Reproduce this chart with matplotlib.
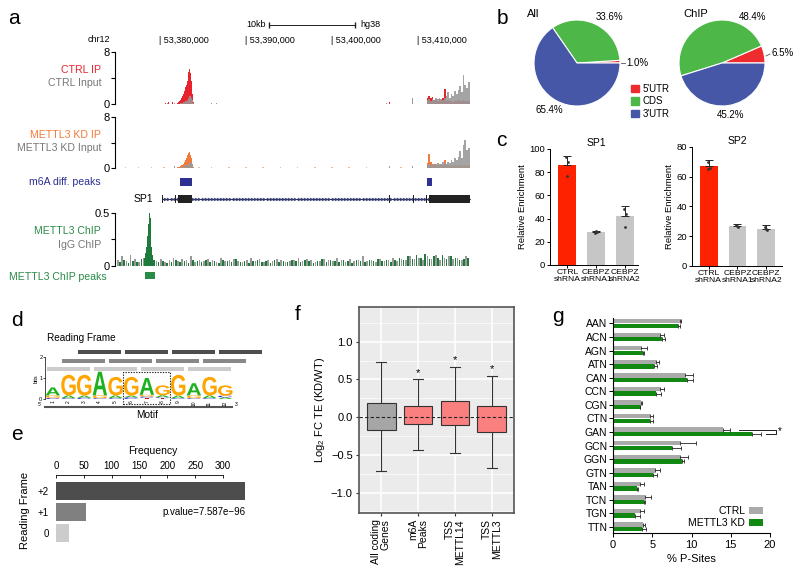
import numpy as np
import matplotlib
matplotlib.use("Agg")
import matplotlib.pyplot as plt
from matplotlib.patches import Rectangle, PathPatch, Patch
from matplotlib.textpath import TextPath
from matplotlib.font_manager import FontProperties
from matplotlib.transforms import Affine2D

plt.rcParams['font.family'] = ['Liberation Sans', 'DejaVu Sans']
plt.rcParams['mathtext.fontset'] = 'custom'
plt.rcParams['mathtext.rm'] = 'Liberation Sans'

# ---------------- data ----------------
# a: genome browser (chr12, SP1 locus)
view = (53374770, 53416047)
ruler_ticks = [53380000, 53390000, 53400000, 53410000]

peak_start, peak_bin = 53382000, 100
ctrl_ip_peak = [0.2, 0.3, 0.5, 0.6, 0.8, 1.0, 1.2, 1.6, 2.0, 2.6, 3.0, 3.6, 4.4, 5.0, 5.4, 4.8, 3.6, 1.5, 0.3]
ctrl_in_peak = [0, 0, 0, 0.1, 0.1, 0.2, 0.2, 0.3, 0.3, 0.4, 0.5, 0.6, 0.8, 1.0, 1.2, 1.2, 1.0, 0.6, 0.2]
kd_ip_peak = [0.1, 0.2, 0.2, 0.3, 0.3, 0.4, 0.5, 0.7, 0.9, 1.2, 1.5, 2.0, 2.5, 2.4, 2.5, 2.0, 1.5, 0.6, 0.1]
kd_in_peak = [0, 0, 0, 0.1, 0.1, 0.1, 0.2, 0.2, 0.3, 0.4, 0.4, 0.5, 0.7, 0.8, 1.0, 1.0, 0.8, 0.4, 0.1]

tail_start, tail_bin = 53411000, 200
ctrl_in_tail = [0.6, 0.7, 0.5, 0.8, 0.6, 1.0, 0.7, 0.9, 0.8, 0.6, 0.9, 1.2, 1.8, 1.0, 1.5, 1.2, 2.0, 1.5, 2.2, 2.8, 1.8, 4.4, 3.0, 2.4, 3.4]
ctrl_ip_tail = [1.0, 1.2, 0.9, 1.1, 0.6, 0.8, 0.5, 0.7, 0.6, 0.9, 2.3, 0.5, 0.6, 0.4, 0.5, 0.3, 0.5, 0.4, 0.6, 0.5, 0.4, 0.6, 0.5, 0.4, 0.5]
kd_in_tail = [0.4, 0.6, 0.5, 0.7, 0.5, 0.6, 0.8, 0.6, 0.7, 0.9, 0.8, 0.6, 1.0, 0.8, 1.2, 0.9, 1.5, 1.2, 1.8, 2.6, 1.6, 3.6, 4.4, 2.8, 3.2]
kd_ip_tail = [0.8, 2.2, 0.9, 0.5, 0.6, 0.4, 0.5, 0.3, 0.6, 0.4, 1.2, 0.4, 0.5, 0.3, 0.4, 0.3, 0.4, 0.3, 0.5, 0.4, 0.3, 0.5, 0.4, 0.3, 0.4]

ctrl_ip_spot_pos = [53380600, 53381000, 53381500, 53406700]
ctrl_ip_spot_val = [0.2, 0.25, 0.3, 0.35]
ctrl_in_spot_pos = [53380900, 53381700, 53386000, 53386600, 53406300, 53409400]
ctrl_in_spot_val = [0.15, 0.2, 0.1, 0.1, 0.2, 0.9]
kd_ip_spot_pos = [53376000, 53377500, 53379000, 53380500, 53384500, 53386000, 53388000, 53390000, 53392000,
                  53394000, 53396000, 53398000, 53400000, 53402000, 53404000, 53408000]
kd_ip_spot_val = [0.12] * 16
kd_in_spot_pos = [53381700, 53406700, 53409400]
kd_in_spot_val = [0.3, 0.3, 0.25]

m6a_peaks = [(53382300, 53383700), (53411050, 53411630)]
chip_peaks = [(53378250, 53379400)]
sp1_exons = [(53380250, 53380330), (53381700, 53381830), (53382150, 53383700), (53406650, 53406780),
             (53409450, 53409580), (53410950, 53411080), (53411300, 53416047)]

chip_peak_start, chip_peak_bin = 53378200, 100
chip_peak = [0.08, 0.12, 0.18, 0.28, 0.40, 0.50, 0.45, 0.30, 0.18, 0.10, 0.06, 0.05]
bg_start, bg_bin = 53375000, 500
igg_bg = [0.06, 0.09, 0.05, 0.10, 0.07, 0.04, 0.08, 0.06, 0.09, 0.05,
          0.07, 0.04, 0.06, 0.08, 0.05, 0.07, 0.06, 0.09, 0.04, 0.06,
          0.05, 0.07, 0.06, 0.04, 0.08, 0.05, 0.06, 0.07, 0.05, 0.04,
          0.06, 0.08, 0.05, 0.07, 0.04, 0.06, 0.05, 0.07, 0.06, 0.04,
          0.05, 0.06, 0.08, 0.05, 0.07, 0.06, 0.04, 0.05, 0.07, 0.06,
          0.05, 0.08, 0.06, 0.04, 0.07, 0.05, 0.06, 0.09, 0.05, 0.06,
          0.04, 0.07, 0.05, 0.06, 0.08, 0.05, 0.07, 0.06, 0.09, 0.07,
          0.08, 0.06, 0.09, 0.07, 0.10, 0.06, 0.08, 0.09, 0.07, 0.08,
          0.06, 0.09]
chip_bg = [0.04, 0.06, 0.03, 0.05, 0.04, 0.07, 0.05, 0.03, 0.06, 0.04,
           0.05, 0.03, 0.04, 0.06, 0.04, 0.05, 0.03, 0.06, 0.05, 0.04,
           0.06, 0.04, 0.05, 0.03, 0.06, 0.05, 0.04, 0.07, 0.04, 0.05,
           0.03, 0.05, 0.06, 0.04, 0.05, 0.03, 0.06, 0.04, 0.05, 0.04,
           0.06, 0.05, 0.04, 0.06, 0.05, 0.03, 0.05, 0.07, 0.04, 0.06,
           0.05, 0.04, 0.06, 0.05, 0.03, 0.06, 0.05, 0.04, 0.06, 0.05,
           0.07, 0.05, 0.06, 0.04, 0.06, 0.08, 0.06, 0.09, 0.07, 0.10,
           0.08, 0.11, 0.07, 0.09, 0.08, 0.10, 0.07, 0.09, 0.08, 0.06,
           0.07, 0.08]

# b: pies
pie_labels = ["5'UTR", "CDS", "3'UTR"]
pie_all = [1.0, 33.6, 65.4]
pie_chip = [6.5, 48.4, 45.2]
pie_colors = ['#ee2b2f', '#4db848', '#4657a7']

# c: enrichment
c_groups = ['CTRL\nshRNA', 'CEBPZ\nshRNA1', 'CEBPZ\nshRNA2']
sp1_mean = [86, 28.5, 42]
sp1_err = [8, 1, 8.5]
sp1_pts = [[93, 89, 77], [28, 28.5, 29], [48, 44, 33]]
sp2_mean = [67, 27, 25]
sp2_err = [4, 1.5, 2.5]
sp2_pts = [[70, 66, 65.5], [27.5, 26, 27], [26, 24.5, 25]]
c_colors = ['#ff2200', '#c6c6c6', '#c6c6c6']

# d: motif logo
motif = list("AGGAGGAGGAGG")
motif_top = [0.55, 1.15, 1.15, 1.3, 1.05, 1.05, 1.0, 0.65, 1.15, 0.75, 1.05, 0.65]
motif_bg = [[('C', 0.05), ('G', 0.12)], [('C', 0.04), ('A', 0.13)], [('C', 0.06), ('A', 0.10)],
            [('C', 0.04), ('G', 0.13)], [('C', 0.04), ('A', 0.13)], [('C', 0.08), ('A', 0.08)],
            [('T', 0.06), ('C', 0.06), ('G', 0.08)], [('T', 0.04), ('C', 0.04), ('A', 0.10)],
            [('C', 0.04), ('A', 0.12)], [('C', 0.04), ('G', 0.13)], [('C', 0.04), ('A', 0.13)],
            [('A', 0.08), ('C', 0.08)]]
base_colors = {'A': '#1fb01f', 'G': '#ffa500', 'C': '#2020cc', 'T': '#d01010'}
frames = [0, 1, 2]
frame_colors = ['#cccccc', '#888888', '#4d4d4d']

# e: reading frame
rf_labels = ['+2', '+1', '0']
rf_counts = [339, 54, 23]
rf_colors = ['#4d4d4d', '#808080', '#cccccc']

# f: TE box plots
f_groups = ['All coding\nGenes', 'm6A\nPeaks', 'TSS\nMETTL14', 'TSS\nMETTL3']
f_q1 = [-0.17, -0.09, -0.10, -0.20]
f_med = [0.0, 0.03, 0.03, -0.04]
f_q3 = [0.19, 0.15, 0.21, 0.15]
f_lo = [-0.71, -0.44, -0.47, -0.68]
f_hi = [0.73, 0.50, 0.67, 0.55]
f_sig = ['', '*', '*', '*']
f_colors = ['#a6a6a6', '#fa7f7f', '#fa7f7f', '#fa7f7f']

# g: P-sites
codons = ['AAN', 'ACN', 'AGN', 'ATN', 'CAN', 'CCN', 'CGN', 'CTN',
          'GAN', 'GCN', 'GGN', 'GTN', 'TAN', 'TCN', 'TGN', 'TTN']
g_ctrl = [8.55, 6.0, 3.55, 5.5, 9.2, 6.0, 3.55, 4.75, 14.0, 8.55, 8.55, 5.4, 3.45, 4.1, 3.45, 3.8]
g_ctrl_err = [0.1, 0.45, 0.75, 0.3, 1.05, 0.5, 0.15, 0.35, 0.9, 2.05, 0.95, 0.6, 0.45, 0.75, 0.45, 0.3]
g_kd = [8.25, 6.2, 3.8, 5.25, 9.4, 5.5, 3.4, 4.65, 17.75, 7.55, 8.75, 5.15, 3.05, 3.9, 2.85, 3.7]
g_kd_err = [0.3, 0.45, 0.2, 0.35, 0.85, 0.6, 0.1, 0.45, 1.15, 1.1, 0.25, 0.45, 0.1, 0.2, 0.65, 0.55]

# ---------------- figure ----------------
fig = plt.figure(figsize=(8, 5.8), dpi=100)


def box(x0, y0, x1, y1):
    return fig.add_axes([x0 / 800, 1 - y1 / 580, (x1 - x0) / 800, (y1 - y0) / 580])


ov = box(0, 0, 800, 580)
ov.set_xlim(0, 800)
ov.set_ylim(580, 0)
ov.axis('off')


def T(x, y, s, size=7, **kw):
    kw.setdefault('va', 'center')
    ov.text(x, y, s, fontsize=size, **kw)


for lab, x, y in [('a', 14, 19), ('b', 502, 19), ('c', 501, 140), ('d', 17, 320),
                  ('e', 17, 434), ('f', 298, 314), ('g', 558, 316)]:
    T(x, y, lab, size=15, ha='center')

# ---- a ----
def track(y0, y1, top, toplab):
    ax = box(115, y0, 470, y1)
    ax.set_xlim(*view)
    ax.set_ylim(0, top)
    for s in ('top', 'right', 'bottom'):
        ax.spines[s].set_visible(False)
    ax.spines['left'].set_linewidth(0.8)
    ax.set_xticks([])
    ax.set_yticks([0, top / 2, top], ['0', '', toplab])
    ax.tick_params(axis='y', length=3, width=0.8, labelsize=8, pad=1)
    ax.patch.set_visible(False)
    return ax


def cover(ax, start, step, vals, color, alpha=1.0, z=2):
    pos = start + step * np.arange(len(vals))
    ax.bar(pos, vals, width=step, align='edge', color=color, alpha=alpha, lw=0, zorder=z)


red, orange, grey, green = '#e8232d', '#f47a3a', '#9a9a9a', '#1f7a3c'

ax1 = track(52, 104, 8, '8')
cover(ax1, peak_start, peak_bin, ctrl_ip_peak, red)
cover(ax1, tail_start, tail_bin, ctrl_ip_tail, red)
ax1.bar(ctrl_ip_spot_pos, ctrl_ip_spot_val, width=130, color=red, lw=0)
cover(ax1, peak_start, peak_bin, ctrl_in_peak, grey, 0.85, 3)
cover(ax1, tail_start, tail_bin, ctrl_in_tail, grey, 0.9, 3)
ax1.bar(ctrl_in_spot_pos, ctrl_in_spot_val, width=130, color=grey, lw=0)

xt = ax1.get_xaxis_transform()
for g in ruler_ticks:
    ax1.text(g - 150, 1.23, f'| {g:,}', transform=xt, fontsize=6.5, ha='left', va='center')
ax1.plot([53392700, 53402700], [1.52, 1.52], transform=xt, color='#222', lw=0.7,
         marker='|', ms=4, clip_on=False)
ax1.text(53392300, 1.52, '10kb', transform=xt, fontsize=6.5, ha='right', va='center')
ax1.text(53403300, 1.52, 'hg38', transform=xt, fontsize=6.5, ha='left', va='center')
T(110, 40, 'chr12', size=6.5, ha='right')

ax2 = track(117, 168, 8, '8')
cover(ax2, peak_start, peak_bin, kd_ip_peak, orange)
cover(ax2, tail_start, tail_bin, kd_ip_tail, orange)
ax2.bar(kd_ip_spot_pos, kd_ip_spot_val, width=200, color='#f8b890', lw=0)
cover(ax2, peak_start, peak_bin, kd_in_peak, grey, 0.85, 3)
cover(ax2, tail_start, tail_bin, kd_in_tail, grey, 0.9, 3)
ax2.bar(kd_in_spot_pos, kd_in_spot_val, width=130, color=grey, lw=0)

axg = box(115, 172, 470, 212)
axg.set_xlim(*view)
axg.set_ylim(212, 172)
axg.axis('off')
for s, e in m6a_peaks:
    axg.add_patch(Rectangle((s, 178), e - s, 8, color='#2e3192', lw=0))
axg.plot([sp1_exons[0][0], view[1]], [199, 199], color='#222', lw=0.7)
chev = np.arange(sp1_exons[0][1] + 300, view[1], 360)
axg.plot(chev, [199] * len(chev), ls='none', marker='>', ms=2.2, mew=0.3, color='#333a70')
for s, e in sp1_exons:
    axg.add_patch(Rectangle((s, 195), max(e - s, 120), 8, color='#222', lw=0, zorder=3))
axg.text(53379200, 199, 'SP1', fontsize=7.5, ha='right', va='center')

ax3 = track(213, 266, 0.5, '0.5')
ax3.bar(bg_start + bg_bin * np.arange(len(igg_bg)), igg_bg, width=180, align='edge', color=grey, lw=0)
ax3.bar(bg_start + 250 + bg_bin * np.arange(len(chip_bg)), chip_bg, width=180, align='edge', color=green, lw=0)
cover(ax3, chip_peak_start, chip_peak_bin, chip_peak, green)

axp = box(115, 268, 470, 282)
axp.set_xlim(*view)
axp.set_ylim(282, 268)
axp.axis('off')
for s, e in chip_peaks:
    axp.add_patch(Rectangle((s, 272), e - s, 7, color='#2a8a48', lw=0))

for txt, y, c in [('CTRL IP', 70, red), ('CTRL Input', 83, '#777777'),
                  ('METTL3 KD IP', 135, orange), ('METTL3 KD Input', 148, '#777777'),
                  ('m6A diff. peaks', 182, '#2e3192'), ('METTL3 ChIP', 231, '#2a8a48'),
                  ('IgG ChIP', 245, '#777777')]:
    T(101, y, txt, size=7.6, ha='right', color=c)
T(107, 277, 'METTL3 ChIP peaks', size=7.6, ha='right', color='#2a8a48')

# ---- b ----
for vals, (x0, x1), title, tx in [(pie_all, (534, 620), 'All', 527), (pie_chip, (679, 765), 'ChIP', 683)]:
    ax = box(x0, 20, x1, 106)
    wedges, _ = ax.pie(vals, colors=pie_colors, startangle=0, counterclock=True,
                       wedgeprops=dict(edgecolor='white', linewidth=0.8))
    ax.set_xlim(-1, 1)
    ax.set_ylim(-1, 1)
    T(tx, 14, title, size=8, ha='left')
T(609, 17, '33.6%', ha='center')
ov.plot([621, 625], [63, 63], color='#555', lw=0.6)
T(626, 63, '1.0%', ha='left')
T(549, 110, '65.4%', ha='center')
T(753, 17, '48.4%', ha='center')
ov.plot([766, 770], [56, 54], color='#555', lw=0.6)
T(771, 53, '6.5%', ha='left')
T(731, 115, '45.2%', ha='center')
fig.legend([Patch(color=c) for c in pie_colors], pie_labels, loc='upper left',
           bbox_to_anchor=(631 / 800, 1 - 84 / 580), frameon=False, fontsize=7,
           handlelength=0.8, handleheight=0.8, labelspacing=0.25, handletextpad=0.4,
           borderpad=0, borderaxespad=0)

# ---- c ----
for (x0, y0, x1, y1), mean, err, pts, title, yt, xl in [
        ((550, 149, 638, 265), sp1_mean, sp1_err, sp1_pts, 'SP1', [0, 20, 40, 60, 80, 100], (-0.6, 2.45)),
        ((692, 147, 782, 266), sp2_mean, sp2_err, sp2_pts, 'SP2', [0, 20, 40, 60, 80], (-0.58, 2.55))]:
    ax = box(x0, y0, x1, y1)
    xs = np.arange(len(mean))
    ax.bar(xs, mean, width=0.62, color=c_colors)
    ax.errorbar(xs, mean, yerr=[[0] * len(err), err], fmt='none', ecolor='#222', elinewidth=0.7,
                capsize=3, capthick=0.7)
    for i, p in enumerate(pts):
        ax.scatter([i - 0.04, i + 0.03, i - 0.01], p, s=4, color='#333', zorder=4, lw=0)
    ax.set_xlim(*xl)
    ax.set_ylim(0, yt[-1])
    ax.set_yticks(yt)
    ax.set_xticks(xs, c_groups, linespacing=0.9)
    for s in ('top', 'right'):
        ax.spines[s].set_visible(False)
    for s in ('left', 'bottom'):
        ax.spines[s].set_linewidth(0.7)
    ax.tick_params(axis='y', labelsize=6.8, length=2, width=0.7, pad=1.5)
    ax.tick_params(axis='x', labelsize=6.1, length=2, width=0.7, pad=1)
    ax.set_ylabel('Relative Enrichment', fontsize=6.8, labelpad=2)
    ax.text(1, 1.01, title, transform=ax.get_xaxis_transform(), ha='center', va='bottom', fontsize=7.5)

# ---- d ----
axd = box(45, 345, 265, 399)
axd.set_xlim(0.5, 0.5 + 220 / 15.67)
axd.set_ylim(0, 54 / 21)
for s in ('top', 'right', 'bottom'):
    axd.spines[s].set_visible(False)
axd.spines['left'].set_bounds(0, 2)
axd.spines['left'].set_linewidth(0.5)
axd.set_yticks([0, 1, 2])
axd.tick_params(axis='y', labelsize=4, length=1.5, width=0.5, pad=0.5)
axd.set_xticks(np.arange(1, 13), [str(i) for i in range(1, 13)], rotation=90, fontsize=3.5)
axd.tick_params(axis='x', length=0, pad=1)
axd.set_ylabel('bits', fontsize=4, labelpad=0, y=0.38)
fp = FontProperties(family='Liberation Sans', weight='bold')


def letter(ch, x, y, w, h, color):
    tp = TextPath((0, 0), ch, size=1, prop=fp)
    bb = tp.get_extents()
    tr = Affine2D().translate(-bb.x0, -bb.y0).scale(w / bb.width, h / bb.height).translate(x - w / 2, y)
    axd.add_patch(PathPatch(tr.transform_path(tp), fc=color, ec='none', lw=0))


for i, ch in enumerate(motif):
    y = 0
    for b, h in motif_bg[i]:
        letter(b, i + 1, y, 0.9, h, base_colors[b])
        y += h
    letter(ch, i + 1, y, 0.92, motif_top[i] - y, base_colors[ch])
for f, c in zip(frames, frame_colors):
    yb = [1.33, 1.71, 2.14][f]
    for k in range(4):
        axd.add_patch(Rectangle((0.62 + f * 0.98 + 3 * k, yb), 2.75, 0.2, color=c, lw=0, clip_on=False))
axd.add_patch(Rectangle((5.45, -0.25), 3.0, 1.54, fill=False, ls=(0, (1.2, 1.2)), lw=0.8,
                        ec='#222', clip_on=False))
T(47, 338, 'Reading Frame', size=7.2, ha='left')
ov.plot([45, 232], [407, 407], color='#555', lw=1.5)
T(40, 404, "5'", size=3.5, ha='center')
T(237, 404, "3'", size=3.5, ha='center')
T(147, 415, 'Motif', size=7.2, ha='center')

# ---- e ----
axe = box(56, 475, 250, 545)
yy = [2, 1, 0]
axe.barh(yy, rf_counts, height=0.82, color=rf_colors)
axe.set_xlim(0, 348)
axe.set_ylim(-0.57, 2.76)
axe.xaxis.tick_top()
axe.xaxis.set_label_position('top')
axe.set_xticks([0, 50, 100, 150, 200, 250, 300])
axe.set_xlabel('Frequency', fontsize=7.5, labelpad=5)
axe.set_yticks(yy, rf_labels)
for s in ('right', 'bottom', 'left'):
    axe.spines[s].set_visible(False)
axe.spines['top'].set_bounds(0, 300)
axe.spines['top'].set_linewidth(0.6)
axe.tick_params(axis='x', direction='in', length=2.5, width=0.6, labelsize=7, pad=3)
axe.tick_params(axis='y', length=0, labelsize=7, pad=5)
axe.set_ylabel('Reading Frame', fontsize=8, labelpad=6)
axe.text(340, 1, 'p.value=7.587e\u221296', ha='right', va='center', fontsize=7)

# ---- f ----
axf = box(359, 307, 514, 513)
axf.set_facecolor('#ebebeb')
stats = [dict(med=m, q1=a, q3=b, whislo=lo, whishi=hi, fliers=[])
         for m, a, b, lo, hi in zip(f_med, f_q1, f_q3, f_lo, f_hi)]
pos = np.arange(1, len(stats) + 1)
bp = axf.bxp(stats, positions=pos, widths=0.78, patch_artist=True, showfliers=False,
             capwidths=0.27,
             boxprops=dict(edgecolor='#333', linewidth=0.8),
             medianprops=dict(color='#333', lw=1.0),
             whiskerprops=dict(color='#333', lw=0.8),
             capprops=dict(color='#333', lw=0.8))
for patch, c in zip(bp['boxes'], f_colors):
    patch.set_facecolor(c)
    patch.set_zorder(3)
axf.axhline(0, ls=(0, (3, 2)), color='#222', lw=0.8, zorder=5)
for x, hi, s in zip(pos, f_hi, f_sig):
    axf.text(x, hi + 0.02, s, ha='center', va='bottom', fontsize=8)
axf.set_xlim(0.4, 4.6)
axf.set_ylim(-1.27, 1.46)
axf.set_yticks([-1, -0.5, 0, 0.5, 1], ['\u22121.0', '\u22120.5', '0.0', '0.5', '1.0'])
axf.set_yticks([-1.25, -0.75, -0.25, 0.25, 0.75, 1.25], minor=True)
axf.set_xticks(pos, f_groups, rotation=90, ha='center', va='top', multialignment='right',
               linespacing=0.95)
axf.grid(which='major', color='white', lw=1.1)
axf.grid(which='minor', axis='y', color='white', lw=0.5)
axf.set_axisbelow(True)
for s in axf.spines.values():
    s.set_color('#555')
    s.set_linewidth(1.2)
axf.tick_params(which='major', length=2.5, width=0.8, color='#333', labelsize=8, pad=2)
axf.tick_params(axis='x', labelsize=7.5)
axf.tick_params(which='minor', length=0)
axf.set_ylabel('Log$_2$ FC TE (KD/WT)', fontsize=8, labelpad=3)

# ---- g ----
axg2 = box(613, 318, 770, 533)
yc = np.arange(len(codons))
ek = dict(ecolor='#222', elinewidth=0.6, capsize=1.3, capthick=0.6)
axg2.barh(yc - 0.17, g_ctrl, height=0.32, color='#aaaaaa',
          xerr=[[0] * len(codons), g_ctrl_err], error_kw=ek, label='CTRL')
axg2.barh(yc + 0.17, g_kd, height=0.32, color='#118811',
          xerr=[[0] * len(codons), g_kd_err], error_kw=ek, label='METTL3 KD')
i = codons.index('GAN')
xa = g_ctrl[i] + g_ctrl_err[i] + 1.1
xb = 20.8
xc = g_kd[i] + g_kd_err[i] + 0.6
axg2.plot([xa, xb, xb, xc], [i - 0.17, i - 0.17, i + 0.17, i + 0.17], color='#222', lw=0.7, clip_on=False)
axg2.text(21.3, i - 0.05, '*', ha='center', va='center', fontsize=7, clip_on=False)
axg2.set_xlim(0, 20)
axg2.set_ylim(15.45, -0.4)
axg2.set_yticks(yc, codons)
axg2.set_xticks([0, 5, 10, 15, 20])
for s in ('top', 'right'):
    axg2.spines[s].set_visible(False)
for s in ('left', 'bottom'):
    axg2.spines[s].set_linewidth(0.8)
axg2.tick_params(axis='y', labelsize=7.5, length=3, width=0.7, pad=1)
axg2.tick_params(axis='x', labelsize=8, length=3, width=0.7, pad=2)
axg2.set_xlabel('% P-Sites', fontsize=8, labelpad=3)
axg2.legend(loc='lower right', bbox_to_anchor=(763 / 800, 1 - 528 / 580), bbox_transform=fig.transFigure,
            frameon=False, fontsize=7.5, markerfirst=False, handlelength=1.3, handleheight=0.6,
            labelspacing=0.15, handletextpad=0.4, borderpad=0, borderaxespad=0)

fig.savefig('out.png', dpi=100)
